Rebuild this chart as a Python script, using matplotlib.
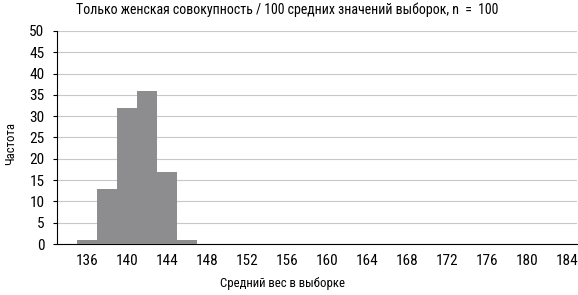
import matplotlib
matplotlib.use('Agg')
import matplotlib.pyplot as plt

# Данные гистограммы (категории по 2 единицы веса)
categories = list(range(134, 186, 2))
counts = [0, 1, 13, 32, 36, 17, 1] + [0] * 19
tick_labels = [str(c) for c in range(136, 188, 4)]

plt.rcParams['font.family'] = ['Roboto Condensed', 'DejaVu Sans']

fig = plt.figure(figsize=(5.78, 2.95), dpi=100)
ax = fig.add_axes([57 / 578, 1 - 244 / 295, 520 / 578, 213 / 295])

pos = list(range(len(categories)))
ax.bar(pos, counts, width=1.0, color='#8d8d8f', zorder=3)

ax.set_xlim(-0.5, len(categories) - 0.5)
ax.set_ylim(0, 50)
ax.set_yticks(range(0, 55, 5))
ax.tick_params(axis='y', labelsize=11, length=3, direction='out', pad=6)

label_pos = [pos[categories.index(int(t))] for t in tick_labels]
ax.set_xticks(label_pos)
ax.set_xticklabels(tick_labels)
ax.tick_params(axis='x', labelsize=11, length=0, pad=7)

ax.grid(axis='y', color='#c8c8c8', linewidth=0.8, zorder=0)
for side in ('top', 'right'):
    ax.spines[side].set_visible(False)
ax.spines['left'].set_color('black')
ax.spines['bottom'].set_color('black')

fig.text(0.497, 0.968, 'Только женская совокупность / 100 средних значений выборок, n  =  100',
         ha='center', va='center', fontsize=10)
fig.text(0.489, 0.04, 'Средний вес в выборке', ha='center', va='center', fontsize=9.2)
fig.text(0.018, 0.515, 'Частота', ha='center', va='center', rotation=90, fontsize=9.2)

fig.savefig('out.png', dpi=100)
